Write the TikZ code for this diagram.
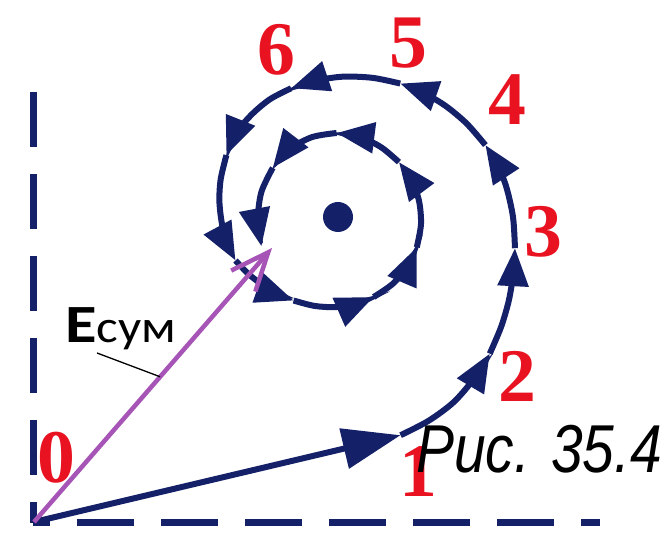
\documentclass[tikz,border=0pt]{standalone}
\usepackage{fontspec}
\setmainfont{Liberation Serif}
\newfontfamily\numfont{Liberation Serif}
\newfontfamily\capfont{Liberation Sans}
\newfontfamily\lblfont{Carlito}
\usetikzlibrary{arrows.meta,calc}
\definecolor{navy}{RGB}{20,32,104}
\definecolor{redn}{RGB}{232,18,32}
\definecolor{vio}{RGB}{166,84,182}
\begin{document}
\begin{tikzpicture}[x=1bp,y=1bp,
  sp/.style={navy, line width=6bp},
  tipa/.style={-{Triangle[length=38bp,width=30bp]}},
  axis/.style={navy, line width=7bp},
  num/.style={text=redn, inner sep=0pt, font=\numfont\bfseries\fontsize{76}{76}\selectfont}]
\useasboundingbox (0,0) rectangle (664,533);
% axes
\draw[axis, dash pattern=on 55bp off 27bp] (33,441) -- (33,10);
\draw[axis, dash pattern=on 57bp off 27bp, dash phase=40bp] (33,10) -- (600,10);
% coordinates
\coordinate (O) at (34,11);
\coordinate (c) at (338,316);
\coordinate (P1) at ($(c)+(-74:227)$);
\coordinate (Etip) at (272,285);
% numbers
\node[num] (n0) at (56,75) {0};
\node[num] (n1) at (418,61) {1};
\node[num] (n2) at (517,157) {2};
\node[num] (n3) at (543,301) {3};
\node[num] (n4) at (507,433) {4};
\node[num] (n5) at (408,490) {5};
\node[num] (n6) at (276,483) {6};
% straight part
\draw[sp, -{Triangle[length=58bp,width=40bp]}] (O) -- (P1);
% spiral
\begin{scope}[shift={(338,316)}]
\draw[sp,tipa] plot[smooth] coordinates {(-74:227) (-66:223) (-58:218.3) (-50:211.3) (-42:204.2)};
\draw[sp,tipa] plot[smooth] coordinates {(-42:204.2) (-34:196.7) (-26:190.1) (-18:184.2) (-10:179.7)};
\draw[sp,tipa] plot[smooth] coordinates {(-10:179.7) (0:175) (10:171) (18:167.8) (26:164)};
\draw[sp,tipa] plot[smooth] coordinates {(26:164) (36:159) (46:154.6) (56:150.6) (65:147.25)};
\draw[sp,tipa] plot[smooth] coordinates {(65:147.25) (76:143.4) (88:140.4) (99:138.1) (110:137)};
\draw[sp,tipa] plot[smooth] coordinates {(110:137) (120:136) (130:134) (140:132) (151:127.6)};
\draw[sp,tipa] plot[smooth] coordinates {(151:127.6) (162:123.3) (172:119.8) (182:116.6) (192:114.6) (203:111.35)};
\draw[sp,tipa] plot[smooth] coordinates {(203:111.35) (213:105.9) (223:101) (233:97.5) (242:94.6)};
\draw[sp,tipa] plot[smooth] coordinates {(242:94.6) (255:92) (268:90.2) (281:88.9) (294:87.6)};
\draw[sp,tipa] plot[smooth] coordinates {(294:87.6) (309:86.4) (324:85.4) (339:84.4)};
\draw[sp,tipa] plot[smooth] coordinates {(339:84.4) (355:83.3) (371:82.6) (386:82.1) (402:82)};
\draw[sp,tipa] plot[smooth] coordinates {(402:82) (418:82) (434:82.9) (451:84)};
\draw[sp,tipa] plot[smooth] coordinates {(451:84) (468:84) (486:83.4) (503:81.7)};
\draw[sp,tipa] plot[smooth] coordinates {(503:81.7) (522:80.6) (542:80.2) (561:82)};
\end{scope}
% center dot
\fill[navy] (c) circle (15);
% resulting vector
\draw[vio, line width=4.5bp, -{Straight Barb[length=38bp,width=32bp]}] (O) -- (Etip);
% label
\coordinate (L1) at (97,180);
\coordinate (L2) at ($(O)!0.53!(Etip)$);
\draw[black, line width=1.3bp] (L1) -- (L2);
\node[anchor=base west, inner sep=0pt] (lbl) at (65,190)
  {\lblfont\bfseries\fontsize{54}{54}\selectfont\scalebox{1.2}[1]{E}\mdseries\fontsize{46}{46}\selectfont\scalebox{1.12}[1]{сум}};
% caption
\node[anchor=base west, inner sep=0pt, font=\capfont\itshape\fontsize{68}{68}\selectfont] (cap) at (416,60)
  {\scalebox{0.84}[1]{Рис. 35.4}};
\end{tikzpicture}
\end{document}
